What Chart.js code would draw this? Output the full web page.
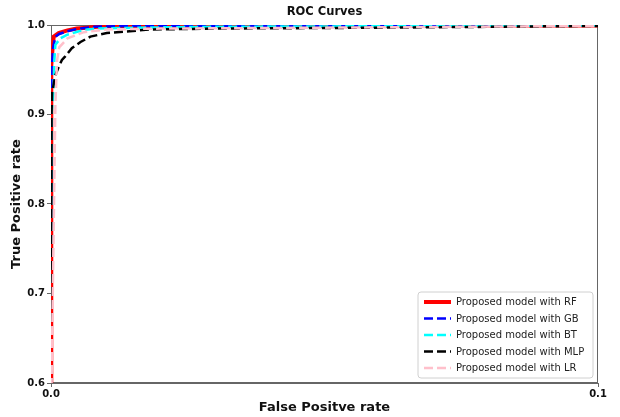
<!DOCTYPE html>
<html lang="en">
<head>
  <meta charset="UTF-8">
  <title>ROC Curves</title>
  <script src="https://cdn.jsdelivr.net/npm/chart.js"></script>
  <style>
    * { margin: 0; padding: 0; box-sizing: border-box; }
    body { background: white; width: 620px; height: 417px; overflow: hidden; }
    canvas { display: block; }
  </style>
</head>
<body>
<canvas id="roc" width="620" height="417"></canvas>
<script>
// ticks
const xTicks = [0.0, 0.1];
const yTicks = [0.6, 0.7, 0.8, 0.9, 1.0];

// series (FPR / TPR)
const rfFpr = [0, 0, 0.0001, 0.0003, 0.0005, 0.0014, 0.003, 0.0047, 0.0066, 0.0084, 0.014, 0.04, 0.1];
const rfTpr = [0, 0.6, 0.955, 0.975, 0.987, 0.991, 0.994, 0.996, 0.997, 0.998, 0.999, 0.999, 0.9995];

const gbFpr = [0, 0, 0.0001, 0.0004, 0.0008, 0.0015, 0.003, 0.005, 0.008, 0.015, 0.05, 0.1];
const gbTpr = [0, 0.6, 0.95, 0.975, 0.987, 0.99, 0.993, 0.996, 0.998, 0.999, 0.999, 1.0];

const btFpr = [0, 0, 0.0001, 0.0005, 0.0006, 0.0008, 0.0017, 0.0029, 0.0048, 0.0066, 0.0084, 0.015, 0.03, 0.1];
const btTpr = [0, 0.6, 0.9, 0.93, 0.96, 0.978, 0.985, 0.989, 0.9925, 0.995, 0.996, 0.997, 0.998, 0.9995];

const mlpFpr = [0, 0, 0.0001, 0.0002, 0.0008, 0.0014, 0.002, 0.0026, 0.0038, 0.0054, 0.0072, 0.0102, 0.0144, 0.018, 0.03, 0.06, 0.1];
const mlpTpr = [0, 0.6, 0.9, 0.924, 0.944, 0.953, 0.961, 0.965, 0.974, 0.981, 0.987, 0.991, 0.993, 0.995, 0.996, 0.997, 0.999];

const lrFpr = [0, 0.0001, 0.0008, 0.0011, 0.0015, 0.003, 0.006, 0.01, 0.02, 0.05, 0.1];
const lrTpr = [0, 0.6, 0.91, 0.96, 0.975, 0.985, 0.992, 0.995, 0.996, 0.997, 0.999];

const labels = ['Proposed model with RF', 'Proposed model with GB', 'Proposed model with BT', 'Proposed model with MLP', 'Proposed model with LR'];

const pts = (xs, ys) => xs.map((x, i) => ({ x: x, y: ys[i] }));
const FONT = "'DejaVu Sans', sans-serif";

function serie(label, xs, ys, color, width, dash, order) {
  return {
    label: label,
    data: pts(xs, ys),
    borderColor: color,
    backgroundColor: color,
    borderWidth: width,
    borderDash: dash,
    pointRadius: 0,
    tension: 0,
    fill: false,
    order: order,
  };
}

// frame + title + legend, placed like the matplotlib original
const extras = {
  id: 'extras',
  beforeDatasetsDraw(chart) {
    const { ctx, chartArea: a } = chart;
    ctx.save();
    ctx.strokeStyle = '#666';
    ctx.lineWidth = 1;
    ctx.strokeRect(a.left + 0.5, a.top + 0.5, a.right - a.left - 1, a.bottom - a.top - 1);
    ctx.restore();
  },
  afterDraw(chart) {
    const { ctx, chartArea: a } = chart;
    ctx.save();
    ctx.fillStyle = '#111';
    ctx.font = 'bold 11.5px ' + FONT;
    ctx.textAlign = 'center';
    ctx.textBaseline = 'middle';
    ctx.fillText('ROC Curves', (a.left + a.right) / 2, 12);

    // legend box
    const bx = 418, by = 292, bw = 175, bh = 86, r = 3;
    ctx.beginPath();
    ctx.moveTo(bx + r, by);
    ctx.arcTo(bx + bw, by, bx + bw, by + bh, r);
    ctx.arcTo(bx + bw, by + bh, bx, by + bh, r);
    ctx.arcTo(bx, by + bh, bx, by, r);
    ctx.arcTo(bx, by, bx + bw, by, r);
    ctx.closePath();
    ctx.fillStyle = 'rgba(255,255,255,0.85)';
    ctx.fill();
    ctx.strokeStyle = '#d0d0d0';
    ctx.lineWidth = 1;
    ctx.stroke();

    ctx.font = '10px ' + FONT;
    ctx.textAlign = 'left';
    chart.data.datasets.forEach((ds, i) => {
      const y = by + 10 + i * 16.5;
      ctx.beginPath();
      ctx.strokeStyle = ds.borderColor;
      ctx.lineWidth = ds.borderWidth;
      ctx.setLineDash(ds.borderDash);
      ctx.moveTo(bx + 6, y);
      ctx.lineTo(bx + 33, y);
      ctx.stroke();
      ctx.setLineDash([]);
      ctx.fillStyle = '#222';
      ctx.fillText(ds.label, bx + 38, y + 0.5);
    });
    ctx.restore();
  }
};

new Chart(document.getElementById('roc'), {
  type: 'line',
  data: {
    datasets: [
      serie(labels[0], rfFpr, rfTpr, '#ff0000', 4, [], 5),
      serie(labels[1], gbFpr, gbTpr, '#0000ff', 2.5, [9, 4], 4),
      serie(labels[2], btFpr, btTpr, '#00ffff', 2.5, [9, 4], 3),
      serie(labels[3], mlpFpr, mlpTpr, '#000000', 2.5, [9, 4], 2),
      serie(labels[4], lrFpr, lrTpr, '#ffc0cb', 2.5, [9, 4], 1),
    ]
  },
  options: {
    responsive: false,
    animation: false,
    layout: { padding: { top: 25, right: 22, left: 0, bottom: 0 } },
    plugins: { legend: { display: false }, title: { display: false }, tooltip: { enabled: false } },
    scales: {
      x: {
        type: 'linear',
        min: 0, max: 0.1,
        afterFit: s => { s.height = 34; },
        afterBuildTicks: s => { s.ticks = xTicks.map(v => ({ value: v })); },
        ticks: { callback: v => v.toFixed(1), color: '#111', font: { family: FONT, size: 10, weight: 'bold' }, padding: 1, maxRotation: 0 },
        grid: { drawOnChartArea: false, drawTicks: true, tickLength: 4, color: '#666' },
        border: { display: true, color: '#666' },
        title: { display: true, text: 'False Positve rate', color: '#111', font: { family: FONT, size: 13, weight: 'bold' }, padding: { top: 0, bottom: 2 } }
      },
      y: {
        min: 0.6, max: 1.0,
        afterFit: s => { s.width = 51; },
        afterBuildTicks: s => { s.ticks = yTicks.map(v => ({ value: v })); },
        ticks: { callback: v => v.toFixed(1), color: '#111', font: { family: FONT, size: 10, weight: 'bold' }, padding: 2 },
        grid: { drawOnChartArea: false, drawTicks: true, tickLength: 4, color: '#666' },
        border: { display: true, color: '#666' },
        title: { display: true, text: 'True Positive rate', color: '#111', font: { family: FONT, size: 13, weight: 'bold' }, padding: { top: 9, bottom: 0 } }
      }
    }
  },
  plugins: [extras]
});
</script>
</body>
</html>
